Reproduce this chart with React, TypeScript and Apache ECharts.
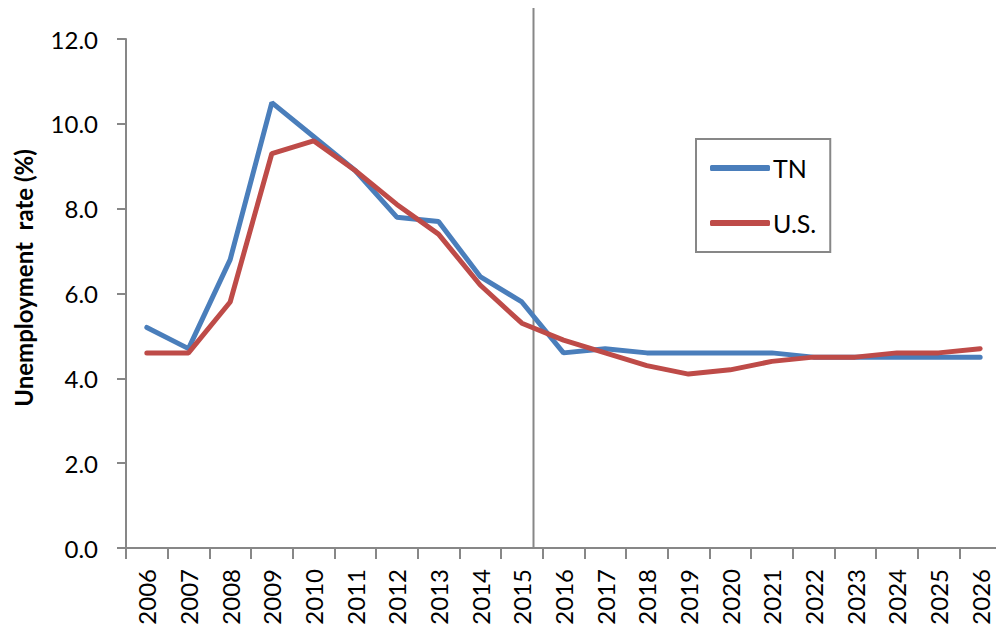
import React, { useEffect, useRef } from "react";
import * as echarts from "echarts";

const years = ["2006","2007","2008","2009","2010","2011","2012","2013","2014","2015","2016","2017","2018","2019","2020","2021","2022","2023","2024","2025","2026"];
const tnValues = [5.2, 4.7, 6.8, 10.5, 9.7, 8.9, 7.8, 7.7, 6.4, 5.8, 4.6, 4.7, 4.6, 4.6, 4.6, 4.6, 4.5, 4.5, 4.5, 4.5, 4.5];
const usValues = [4.6, 4.6, 5.8, 9.3, 9.6, 8.9, 8.1, 7.4, 6.2, 5.3, 4.9, 4.6, 4.3, 4.1, 4.2, 4.4, 4.5, 4.5, 4.6, 4.6, 4.7];
const seriesNames = ["TN", "U.S."];
const yTicks = [0, 2, 4, 6, 8, 10, 12];
const forecastDivider = 2015.28;
const yTitle = "Unemployment  rate (%)";

const FONT = "Lato, 'Open Sans', sans-serif";
const GREY = "#878787";

export default function App() {
  const ref = useRef<HTMLDivElement>(null);
  useEffect(() => {
    if (!ref.current) return;
    const chart = echarts.init(ref.current, null, { renderer: "svg" });
    const option: any = {
      animation: false,
      backgroundColor: "#ffffff",
      grid: { left: 126, top: 39, bottom: 85, right: 0, containLabel: false },
      legend: {
        orient: "vertical",
        left: 696,
        top: 139,
        data: seriesNames,
        padding: [15, 14, 15, 14],
        itemWidth: 60,
        itemHeight: 6,
        itemGap: 27,
        icon: "roundRect",
        borderColor: GREY,
        borderWidth: 2,
        textStyle: { fontFamily: FONT, fontSize: 25, color: "#000", lineHeight: 28, padding: [0, 0, 0, -2] },
      },
      xAxis: [
        {
          type: "category",
          data: years,
          boundaryGap: true,
          axisLine: { lineStyle: { color: GREY, width: 2 } },
          axisTick: { show: true, length: 11, lineStyle: { color: GREY, width: 2 }, alignWithLabel: false },
          axisLabel: { rotate: 90, interval: 0, margin: 21, fontFamily: FONT, fontSize: 24, color: "#000" },
          splitLine: { show: false },
        },
        {
          type: "value",
          show: false,
          min: 2005.5,
          max: 2026.5,
          splitLine: { show: false },
        },
      ],
      yAxis: {
        type: "value",
        min: yTicks[0],
        max: yTicks[yTicks.length - 1],
        interval: 2,
        axisLine: { show: true, lineStyle: { color: GREY, width: 2 } },
        axisTick: { show: true, length: 9, lineStyle: { color: GREY, width: 2 } },
        axisLabel: { margin: 28, fontFamily: FONT, fontSize: 24, color: "#000", formatter: (v: number) => v.toFixed(1) },
        splitLine: { show: false },
      },
      series: [
        {
          name: seriesNames[0],
          type: "line",
          data: tnValues,
          symbol: "none",
          color: "#4A7EBB",
          lineStyle: { width: 5, color: "#4A7EBB", cap: "round" },
        },
        {
          name: seriesNames[1],
          type: "line",
          data: usValues,
          symbol: "none",
          color: "#BE4B48",
          lineStyle: { width: 5, color: "#BE4B48", cap: "round" },
        },
      ],
    };
    chart.setOption(option);
    const x = chart.convertToPixel({ xAxisIndex: 1 }, forecastDivider) as number;
    const yBottom = chart.convertToPixel({ yAxisIndex: 0 }, 0) as number;
    chart.setOption({
      graphic: [
        {
          type: "line",
          shape: { x1: x, y1: 8, x2: x, y2: yBottom },
          style: { stroke: GREY, lineWidth: 2 },
          z: 1,
        },
        {
          type: "text",
          x: 23,
          y: 278,
          rotation: Math.PI / 2,
          style: {
            text: yTitle,
            fontFamily: FONT,
            fontSize: 24,
            fontWeight: "bold",
            fill: "#000",
            align: "center",
            verticalAlign: "middle",
          },
        },
      ],
    });
    return () => chart.dispose();
  }, []);
  return (
    <div style={{ position: "absolute", left: 0, top: 0, width: 996, height: 633, overflow: "hidden" }}>
      <div ref={ref} style={{ width: 1001, height: 633 }} />
    </div>
  );
}
